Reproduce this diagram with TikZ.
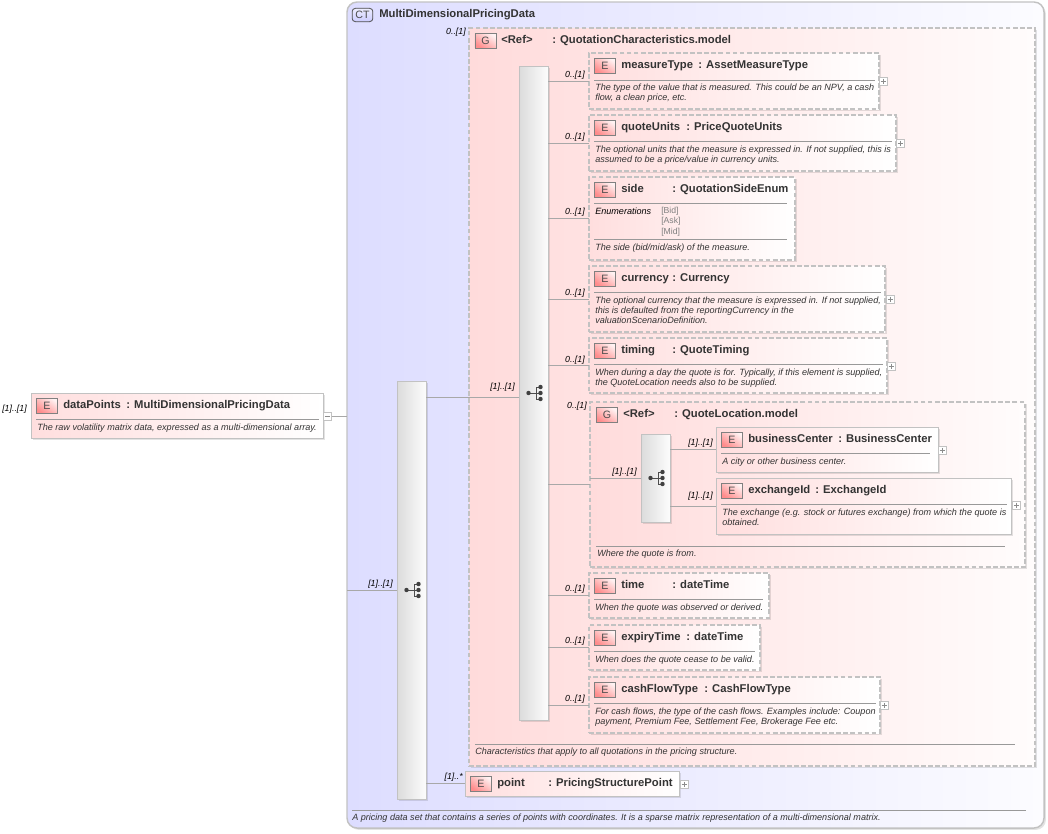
\documentclass[tikz,border=0pt]{standalone}
\usepackage{fontspec}
\setmainfont{Liberation Sans}
\usetikzlibrary{shadows,calc}
\definecolor{ctL}{HTML}{DDDDFF}
\definecolor{ctR}{HTML}{FCFCFF}
\definecolor{gL}{HTML}{FFDBDB}
\definecolor{gR}{HTML}{FFFCFC}
\definecolor{eL}{HTML}{FFDEDE}
\definecolor{bord}{HTML}{C2C2C2}
\definecolor{linec}{HTML}{A8A8A8}
\definecolor{txt}{HTML}{333333}
\tikzset{
  x=0.75pt,y=-0.75pt,
  base/.style={anchor=north west,inner sep=0pt,outer sep=0pt,draw=bord,line width=0.65pt},
  shad/.style={drop shadow={shadow xshift=1.4pt,shadow yshift=-1.4pt,fill=black,opacity=.11}},
  ctbox/.style={base,rounded corners=7.5pt,shade,left color=ctL,right color=ctR,line width=1.1pt,shad},
  grp/.style={base,shade,left color=gL,right color=gR,dash pattern=on 3.6pt off 1.7pt,line width=0.95pt,shad},
  solidel/.style={base,shade,left color=eL,right color=white,shad},
  dashel/.style={base,line width=0.8pt,shade,left color=eL,right color=white,dash pattern=on 3.6pt off 1.7pt,shad},
  seqbar/.style={base,shade,left color=black!14,right color=black!1,shad},
  badge/.style={base,draw=black!50,line width=0.5pt,shade,shading=axis,top color=red!5,bottom color=red!45,shading angle=-35,text=black!70,align=center,anchor=center,font=\fontsize{8}{8}\selectfont},
  ctbadge/.style={badge,rounded corners=2.4pt,top color=blue!7,bottom color=blue!20,draw=black!70,line width=0.6pt},
  ttl/.style={anchor=west,inner sep=0pt,text=txt,font=\fontsize{8.45}{9}\selectfont\bfseries,text height=6pt,text depth=1.5pt},
  doc/.style={anchor=north west,inner sep=0pt,text=txt,align=left,font=\fontsize{6.8}{7.5}\selectfont\itshape},
  enumv/.style={doc,text=black!50,font=\fontsize{6.5}{7.7}\selectfont},
  mult/.style={anchor=east,inner sep=0pt,text=black,font=\fontsize{6.6}{7}\selectfont\itshape,text height=5pt,text depth=1.5pt},
  conn/.style={draw=linec,line width=0.7pt},
  sepl/.style={draw=black!40,line width=0.6pt},
  exbase/.style={anchor=north west,inner sep=0pt,outer sep=0pt,minimum width=6.4pt,minimum height=6.4pt,draw=bord,fill=white,line width=0.5pt},
  plusb/.style={exbase,path picture={\draw[black!45,line width=0.4pt]
     ([xshift=1.3pt]path picture bounding box.west)--([xshift=-1.3pt]path picture bounding box.east)
     ([yshift=-1.3pt]path picture bounding box.north)--([yshift=1.3pt]path picture bounding box.south);}},
  minusb/.style={exbase,path picture={\draw[black!45,line width=0.4pt]
     ([xshift=1.3pt]path picture bounding box.west)--([xshift=-1.3pt]path picture bounding box.east);}},
  seqicon/.pic={
    \draw[black!70,line width=0.6pt] (-5,0)--(3,0) (7,-6)--(3,-6)--(3,6)--(7,6) (3,0)--(7,0);
    \foreach \q/\r in {-5/0,7/-6,7/0,7/6}{\fill[black!75] (\q,\r) circle[radius=2.2];}
  }
}
% id, style, x1, y1, x2, y2
\newcommand\bx[6]{%
  \pgfmathsetmacro\bxw{(#5-#3)*0.75}\pgfmathsetmacro\bxh{(#6-#4)*0.75}%
  \node[#2,minimum width=\bxw pt,minimum height=\bxh pt] (#1) at (#3,#4) {};}
% id, letter, x1, y1, name, typex, type
\newcommand\hd[7]{%
  \node[badge,minimum width=16.2pt,minimum height=11pt] (#1b) at (#3+16,#4+12.5) {#2};
  \node[ttl] (#1n) at (#3+32,#4+12) {#5};
  \node[ttl] (#1t) at (#6,#4+12) {#7};}
\begin{document}
\begin{tikzpicture}
\useasboundingbox (0,0) rectangle (1048,833);
% Complex type
\bx{ct}{ctbox}{347}{2}{1044}{828}
\node[ctbadge,minimum width=15.5pt,minimum height=10pt] (ctb) at (362.5,15) {CT};
\node[ttl] (ctn) at (379,14.5) {MultiDimensionalPricingData};
% outer element
\bx{dp}{solidel}{31}{393}{323}{438}
\hd{dp}{E}{31}{393}{dataPoints}{126}{: MultiDimensionalPricingData}
\node[minusb] (dpx) at (323,412) {};
\draw[sepl] (36,419)--(319,419);
\node[doc] (dpd) at (37,424) {The raw volatility matrix data, expressed as a multi-dimensional array.};
\node[mult] (dpm) at (27,409.5) {[1]..[1]};
% outer sequence
\bx{sq}{seqbar}{397}{381}{426}{799}
\pic at (sq) {seqicon};
% group
\bx{g}{grp}{469}{28}{1035}{766}
\node[badge,minimum width=16pt,minimum height=11pt] (gb) at (485.5,40.5) {G};
\node[ttl] (gn) at (501,40) {<Ref>};
\node[ttl] (gt) at (552,40) {: QuotationCharacteristics.model};
\node[mult] (gm) at (466,32.5) {0..[1]};
\draw[sepl] (475,744)--(1015,744);
\node[doc] (gd) at (475,748) {Characteristics that apply to all quotations in the pricing structure.};
% inner sequence
\bx{si}{seqbar}{519}{66}{548}{720}
\pic at (si) {seqicon};
% measureType
\bx{mt}{dashel}{589}{53}{879}{109}
\hd{mt}{E}{589}{53}{measureType}{698}{: AssetMeasureType}
\node[plusb] (mtx) at (879,77) {};
\draw[sepl] (594,80)--(875,80);
\node[doc] (mtd) at (595,84) {The type of the value that is measured. This could be an NPV, a cash\\flow, a clean price, etc.};
\node[mult] (mtm) at (585,75.5) {0..[1]};
% quoteUnits
\bx{qu}{dashel}{589}{115}{896}{171}
\hd{qu}{E}{589}{115}{quoteUnits}{686}{: PriceQuoteUnits}
\node[plusb] (qux) at (896,139) {};
\draw[sepl] (594,141)--(892,141);
\node[doc] (qud) at (595,146) {The optional units that the measure is expressed in. If not supplied, this is\\assumed to be a price/value in currency units.};
\node[mult] (qum) at (585,137.5) {0..[1]};
% side
\bx{sd}{dashel}{589}{177}{795}{260}
\hd{sd}{E}{589}{177}{side}{672}{: QuotationSideEnum}
\draw[sepl] (594,203)--(787,203);
\node[doc,text=black] (sde) at (595,208) {Enumerations};
\node[enumv] (sdv) at (661,207) {[Bid]\\{}[Ask]\\{}[Mid]};
\draw[sepl] (594,239)--(787,239);
\node[doc] (sdd) at (595,244) {The side (bid/mid/ask) of the measure.};
\node[mult] (sdm) at (585,212.5) {0..[1]};
% currency
\bx{cu}{dashel}{589}{266}{885}{332}
\hd{cu}{E}{589}{266}{currency}{672}{: Currency}
\node[plusb] (cux) at (886,295) {};
\draw[sepl] (594,292)--(881,292);
\node[doc] (cud) at (595,297) {The optional currency that the measure is expressed in. If not supplied,\\this is defaulted from the reportingCurrency in the\\valuationScenarioDefinition.};
\node[mult] (cum) at (585,293.5) {0..[1]};
% timing
\bx{ti}{dashel}{589}{338}{887}{393}
\hd{ti}{E}{589}{338}{timing}{672}{: QuoteTiming}
\node[plusb] (tix) at (887,362) {};
\draw[sepl] (594,364)--(883,364);
\node[doc] (tid) at (595,369) {When during a day the quote is for. Typically, if this element is supplied,\\the QuoteLocation needs also to be supplied.};
\node[mult] (tim) at (585,360.5) {0..[1]};
% group 2
\bx{gl}{grp}{590}{402}{1025}{567}
\node[badge,minimum width=16pt,minimum height=11pt] (glb) at (607,415) {G};
\node[ttl] (gln) at (623,414) {<Ref>};
\node[ttl] (glt) at (674,414) {: QuoteLocation.model};
\node[mult] (glm) at (587,406.5) {0..[1]};
\draw[sepl] (596,546)--(1005,546);
\node[doc] (gld) at (597,550) {Where the quote is from.};
\bx{s2}{seqbar}{641}{434}{670}{522}
\pic at (s2) {seqicon};
\node[mult] (s2m) at (637,472.5) {[1]..[1]};
% businessCenter
\bx{bc}{solidel}{716}{427}{938}{472}
\hd{bc}{E}{716}{427}{businessCenter}{838}{: BusinessCenter}
\node[plusb] (bcx) at (938,446) {};
\draw[sepl] (721,453)--(930,453);
\node[doc] (bcd) at (722,458) {A city or other business center.};
\node[mult] (bcm) at (713,443.5) {[1]..[1]};
% exchangeId
\bx{ex}{solidel}{716}{478}{1011}{534}
\hd{ex}{E}{716}{478}{exchangeId}{815}{: ExchangeId}
\node[plusb] (exx) at (1012,501) {};
\draw[sepl] (721,504)--(1007,504);
\node[doc] (exd) at (722,509) {The exchange (e.g. stock or futures exchange) from which the quote is\\obtained.};
\node[mult] (exm) at (713,496.5) {[1]..[1]};
% time
\bx{tm}{dashel}{589}{573}{769}{618}
\hd{tm}{E}{589}{573}{time}{672}{: dateTime}
\draw[sepl] (594,599)--(763,599);
\node[doc] (tmd) at (595,604) {When the quote was observed or derived.};
\node[mult] (tmm) at (585,589.5) {0..[1]};
% expiryTime
\bx{et}{dashel}{589}{625}{760}{670}
\hd{et}{E}{589}{625}{expiryTime}{686}{: dateTime}
\draw[sepl] (594,651)--(755,651);
\node[doc] (etd) at (595,656) {When does the quote cease to be valid.};
\node[mult] (etm) at (585,641.5) {0..[1]};
% cashFlowType
\bx{cf}{dashel}{589}{677}{880}{733}
\hd{cf}{E}{589}{677}{cashFlowType}{704}{: CashFlowType}
\node[plusb] (cfx) at (880,701) {};
\draw[sepl] (594,703)--(876,703);
\node[doc] (cfd) at (595,708) {For cash flows, the type of the cash flows. Examples include: Coupon\\payment, Premium Fee, Settlement Fee, Brokerage Fee etc.};
\node[mult] (cfm) at (585,699.5) {0..[1]};
% point
\bx{pt}{solidel}{465}{771}{679}{796}
\hd{pt}{E}{465}{771}{point}{548}{: PricingStructurePoint}
\node[plusb] (ptx) at (680,780) {};
\node[mult] (ptm) at (463,777.5) {[1]..*};
% complex type footer
\draw[sepl] (352,810)--(1026,810);
\node[doc] (ctd) at (352,814) {A pricing data set that contains a series of points with coordinates. It is a sparse matrix representation of a multi-dimensional matrix.};
\node[mult] (sqm) at (393,584.5) {[1]..[1]};
\node[mult] (sim) at (515,387.5) {[1]..[1]};
% connectors
\draw[conn] (dpx.east) -- (ct.west |- dpx.east);
\draw[conn] (ct.west |- sq.west) -- (sq.west);
\draw[conn] (g.west -| sq.east) -- (g.west) -- (si.west |- g.west);
\draw[conn] (pt.west -| sq.east) -- (pt.west);
\foreach \k in {mt,qu,sd,cu,ti,gl,tm,et,cf}{\draw[conn] (\k.west -| si.east) -- (\k.west);}
\draw[conn] (gl.west |- s2.west) -- (s2.west);
\draw[conn] (bc.west -| s2.east) -- (bc.west);
\draw[conn] (ex.west -| s2.east) -- (ex.west);
\end{tikzpicture}
\end{document}
